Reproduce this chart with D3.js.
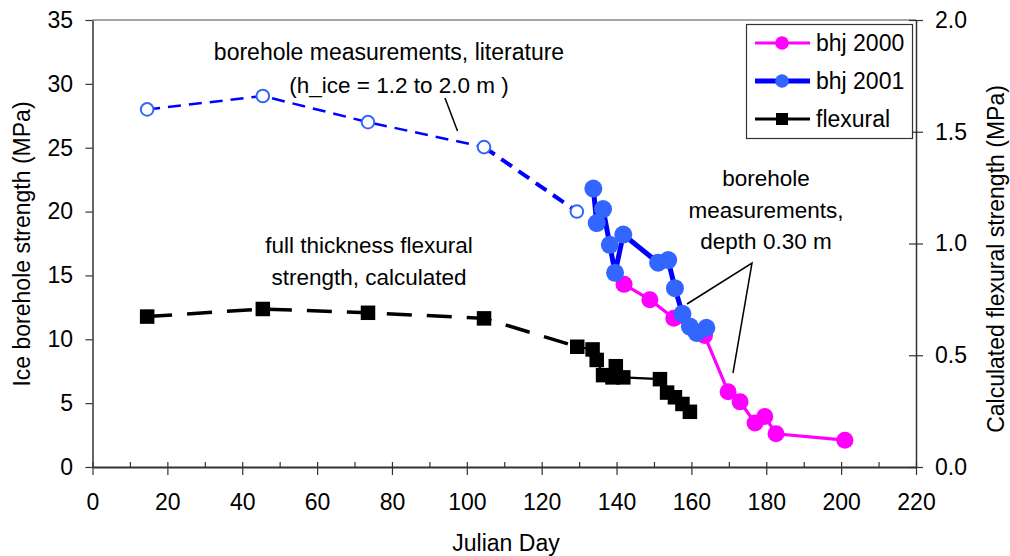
<!DOCTYPE html>
<html>
<head>
<meta charset="utf-8">
<script src="https://cdn.jsdelivr.net/npm/d3@7"></script>
<style>
  html, body { margin: 0; padding: 0; background: #fff; }
  svg { display: block; font-family: "Liberation Sans", Arial, sans-serif; }
</style>
</head>
<body>
<svg id="chart" width="1010" height="556"></svg>
<script>
// ---------- data ----------
const xTicks = [0, 20, 40, 60, 80, 100, 120, 140, 160, 180, 200, 220];
const yLeftTicks = [0, 5, 10, 15, 20, 25, 30, 35];
const yRightTicks = [0.0, 0.5, 1.0, 1.5, 2.0];

const litDay = [14.6, 45.5, 73.6, 104.6, 129.4];
const litVal = [28.0, 29.05, 27.0, 25.05, 20.0];

const bhj2000Day = [142.0, 148.9, 155.3, 163.5, 169.8, 173.0, 177.0, 179.6, 182.6, 201.0];
const bhj2000Val = [14.3, 13.1, 11.65, 10.3, 5.9, 5.1, 3.45, 3.95, 2.6, 2.1];

const bhj2001Day = [133.8, 134.7, 136.4, 138.2, 139.6, 141.8, 151.1, 153.8, 155.6, 157.6, 159.6, 161.4, 164.0];
const bhj2001Val = [21.8, 19.1, 20.2, 17.4, 15.2, 18.2, 16.0, 16.2, 14.0, 12.0, 11.0, 10.5, 10.9];

// flexural strength, right axis (MPa)
const flexDay = [14.6, 45.5, 73.6, 104.6, 129.5, 133.6, 134.7, 136.4, 138.9, 139.8, 141.8, 151.6, 153.5, 155.6, 157.6, 159.6];
const flexVal = [0.673, 0.707, 0.690, 0.665, 0.538, 0.526, 0.479, 0.411, 0.401, 0.451, 0.401, 0.393, 0.333, 0.312, 0.282, 0.247];

const legendNames = ["bhj 2000", "bhj 2001", "flexural"];

// ---------- layout ----------
const svg = d3.select("#chart");
const X0 = 92.5, X1 = 916, Y0 = 467, Y1 = 20;
const x = d3.scaleLinear([0, 220], [X0, X1]);
const yL = d3.scaleLinear([0, 35], [Y0, Y1]);
const yR = d3.scaleLinear([0, 2], [Y0, Y1]);
const FS = 23;
const FA = 22.5;
const FF = "Liberation Sans, Arial, sans-serif";

// top border
svg.append("line").attr("x1", X0).attr("x2", X1).attr("y1", Y1).attr("y2", Y1)
  .attr("stroke", "#888").attr("stroke-width", 1.5);

// x axis: minor inside ticks
svg.append("g").attr("transform", `translate(0,${Y0})`)
  .call(d3.axisBottom(x).tickValues(d3.range(0, 221, 10)).tickSize(-5).tickSizeOuter(0).tickFormat(""))
  .call(g => g.select(".domain").remove())
  .call(g => g.selectAll("line").attr("stroke", "#333").attr("stroke-width", 1.2));
// x axis: major crossing ticks
svg.append("g").attr("transform", `translate(0,${Y0})`)
  .call(d3.axisBottom(x).tickValues(xTicks).tickSize(8).tickSizeOuter(0).tickPadding(18.7))
  .call(g => g.select(".domain").attr("stroke", "#333").attr("stroke-width", 2))
  .call(g => g.selectAll("line").attr("stroke", "#333").attr("stroke-width", 1.2))
  .call(g => g.selectAll("text").attr("font-size", FS).attr("fill", "#000").attr("font-family", FF));

// left y axis
svg.append("g").attr("transform", `translate(${X0},0)`)
  .call(d3.axisLeft(yL).tickValues(yLeftTicks).tickSize(7).tickSizeOuter(0).tickPadding(12.5))
  .call(g => g.select(".domain").attr("stroke", "#333").attr("stroke-width", 1.5))
  .call(g => g.selectAll("line").attr("stroke", "#333").attr("stroke-width", 1.2))
  .call(g => g.selectAll("text").attr("font-size", FS).attr("fill", "#000").attr("font-family", FF));

// right y axis (crossing ticks)
svg.append("g").attr("transform", `translate(${X1},0)`)
  .call(d3.axisRight(yR).tickValues(yRightTicks).tickSize(-7).tickSizeOuter(0).tickFormat(""))
  .call(g => g.select(".domain").remove())
  .call(g => g.selectAll("line").attr("stroke", "#333").attr("stroke-width", 1.2));
svg.append("g").attr("transform", `translate(${X1},0)`)
  .call(d3.axisRight(yR).tickValues(yRightTicks).tickSize(7).tickSizeOuter(0).tickPadding(12).tickFormat(d3.format(".1f")))
  .call(g => g.select(".domain").attr("stroke", "#333").attr("stroke-width", 1.5))
  .call(g => g.selectAll("line").attr("stroke", "#333").attr("stroke-width", 1.2))
  .call(g => g.selectAll("text").attr("font-size", FS).attr("fill", "#000").attr("font-family", FF));

// axis titles
svg.append("text").attr("x", 506).attr("y", 551).attr("text-anchor", "middle")
  .attr("font-size", FS).text("Julian Day");
svg.append("text").attr("transform", `translate(30,244) rotate(-90)`).attr("text-anchor", "middle")
  .attr("font-size", FS).text("Ice borehole strength (MPa)");
svg.append("text").attr("transform", `translate(1004,259) rotate(-90)`).attr("text-anchor", "middle")
  .attr("font-size", FS).text("Calculated flexural strength (MPa)");

// ---------- series ----------
const line = d3.line();

// flexural: dashed first part, solid after
const flexPts = flexDay.map((d, i) => [x(d), yR(flexVal[i])]);
svg.append("path").attr("d", line(flexPts.slice(0, 5))).attr("fill", "none")
  .attr("stroke", "#000").attr("stroke-width", 3.5).attr("stroke-dasharray", "25,15");
svg.append("path").attr("d", line(flexPts.slice(4))).attr("fill", "none")
  .attr("stroke", "#000").attr("stroke-width", 2.2);
const SQ = 14.5;
svg.append("g").selectAll("rect").data(flexPts).join("rect")
  .attr("x", d => d[0] - SQ / 2).attr("y", d => d[1] - SQ / 2)
  .attr("width", SQ).attr("height", SQ).attr("fill", "#000");

// literature borehole: dashed blue with open circles
const litPts = litDay.map((d, i) => [x(d), yL(litVal[i])]);
svg.append("path").attr("d", line(litPts.slice(0, 4))).attr("fill", "none")
  .attr("stroke", "#0000ff").attr("stroke-width", 2.5).attr("stroke-dasharray", "13,8");
svg.append("path").attr("d", line(litPts.slice(3))).attr("fill", "none")
  .attr("stroke", "#0000ff").attr("stroke-width", 4).attr("stroke-dasharray", "13,8");
svg.append("g").selectAll("circle").data(litPts).join("circle")
  .attr("cx", d => d[0]).attr("cy", d => d[1]).attr("r", 6.3)
  .attr("fill", "#fff").attr("stroke", "#3366ff").attr("stroke-width", 2);

// bhj 2000
const p2000 = bhj2000Day.map((d, i) => [x(d), yL(bhj2000Val[i])]);
svg.append("path").attr("d", line(p2000)).attr("fill", "none")
  .attr("stroke", "#ff00ff").attr("stroke-width", 3.2);
svg.append("g").selectAll("circle").data(p2000).join("circle")
  .attr("cx", d => d[0]).attr("cy", d => d[1]).attr("r", 8.5).attr("fill", "#ff00ff");

// bhj 2001
const p2001 = bhj2001Day.map((d, i) => [x(d), yL(bhj2001Val[i])]);
svg.append("path").attr("d", line(p2001)).attr("fill", "none")
  .attr("stroke", "#0000ff").attr("stroke-width", 5);
svg.append("g").selectAll("circle").data(p2001).join("circle")
  .attr("cx", d => d[0]).attr("cy", d => d[1]).attr("r", 9).attr("fill", "#3366ff");

// ---------- annotations ----------
function ann(lines, cx, y0, dy, fs) {
  const t = svg.append("text").attr("font-size", fs || FA).attr("text-anchor", "middle");
  lines.forEach((s, i) => t.append("tspan").attr("x", cx).attr("y", y0 + i * dy).text(s));
}
ann(["borehole measurements, literature"], 389, 60, 0, 23);
ann(["(h_ice = 1.2 to 2.0 m )"], 399, 93, 0);
svg.append("line").attr("x1", 445).attr("y1", 98).attr("x2", 457.5).attr("y2", 131)
  .attr("stroke", "#000").attr("stroke-width", 1.5);

ann(["full thickness flexural", "strength, calculated"], 369, 253, 32);

ann(["borehole", "measurements,", "depth 0.30 m"], 766, 186, 31.5);
svg.append("polyline").attr("points", "687,304 752,263 733,373")
  .attr("fill", "none").attr("stroke", "#000").attr("stroke-width", 1.5);

// ---------- legend ----------
const lg = svg.append("g");
lg.append("rect").attr("x", 746.5).attr("y", 24.5).attr("width", 166).attr("height", 114)
  .attr("fill", "#fff").attr("stroke", "#333").attr("stroke-width", 1.2);
const legColors = ["#ff00ff", "#0000ff", "#000"];
const legWidths = [3, 5, 3];
const legY = [43, 81, 119];
legendNames.forEach((n, i) => {
  lg.append("line").attr("x1", 755).attr("x2", 810).attr("y1", legY[i]).attr("y2", legY[i])
    .attr("stroke", legColors[i]).attr("stroke-width", legWidths[i]);
  if (i === 0) lg.append("circle").attr("cx", 782).attr("cy", legY[i]).attr("r", 6.8).attr("fill", "#ff00ff");
  if (i === 1) lg.append("circle").attr("cx", 782).attr("cy", legY[i]).attr("r", 6.8).attr("fill", "#3366ff");
  if (i === 2) lg.append("rect").attr("x", 776).attr("y", legY[i] - 6).attr("width", 12).attr("height", 12).attr("fill", "#000");
  lg.append("text").attr("x", 816).attr("y", legY[i] + 8).attr("font-size", FS).text(n);
});
</script>
</body>
</html>
